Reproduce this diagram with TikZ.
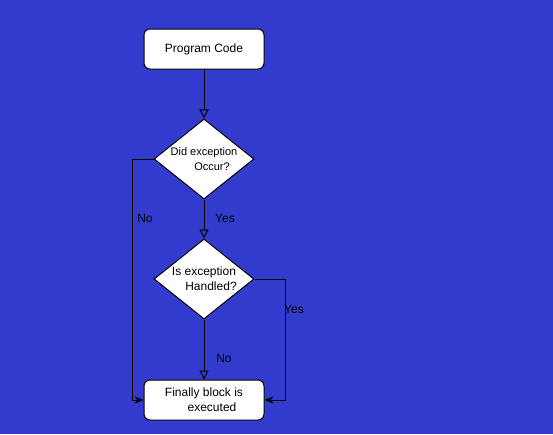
\documentclass[tikz,border=0pt]{standalone}
\usepackage{fontspec}
\setmainfont{Liberation Sans}
\usetikzlibrary{shapes.geometric,arrows.meta}
\definecolor{bgblue}{RGB}{51,59,207}
\tikzset{
  stepbox/.style={draw=black, fill=white, rounded corners=6pt, line width=1pt,
    minimum width=120pt, minimum height=40pt, inner sep=0pt, font=\fontsize{12}{14}\selectfont},
  decision/.style={draw=black, fill=white, diamond, line width=1pt, aspect=1.25,
    minimum width=100pt, minimum height=80pt, inner sep=0pt},
  flow/.style={draw=black, line width=1pt, -{Triangle[open, length=9pt, width=9pt]}},
  sideflow/.style={draw=black, line width=1pt, -{Stealth[length=9pt, width=7pt]}},
  edgelabel/.style={font=\fontsize{12}{14}\selectfont, text=black, inner sep=0pt}
}
\begin{document}
\begin{tikzpicture}[x=1pt, y=-1pt]
      \fill[bgblue] (0, 0) rectangle (553, 434);
      \useasboundingbox (0, 0) rectangle (553, 434);

      \node[stepbox] (code) at (204, 49){Program Code};
      \node[decision] (occur) at (204, 159){};
        \node[align=center, inner sep=0pt, font=\fontsize{11}{15}\selectfont] (occurtxt) at (204, 159){Did exception\\\hspace*{16pt}Occur?};
      \node[decision] (handled) at (204, 279){};
        \node[align=center, inner sep=0pt, font=\fontsize{12}{15}\selectfont] (handledtxt) at (204, 279){Is exception\\\hspace*{14pt}Handled?};
      \node[stepbox, align=center, font=\fontsize{12}{15}\selectfont] (final) at (204, 400){Finally block is\\\hspace*{16pt}executed};

      \draw[flow](code) to (occur);
      \draw[flow](occur) to (handled);
      \draw[flow](handled) to (final);
      \draw[sideflow](occur.west) -- ++(-21, 0) |- (final.west);
      \draw[sideflow](handled.east) -- ++(31, 0) |- (final.east);

      \node[edgelabel] (nooccur) at (145, 218){No};
      \node[edgelabel] (yesoccur) at (225, 218){Yes};
      \node[edgelabel] (nohandled) at (224, 358){No};
      \node[edgelabel] (yeshandled) at (294, 309){Yes};
\end{tikzpicture}
\end{document}
